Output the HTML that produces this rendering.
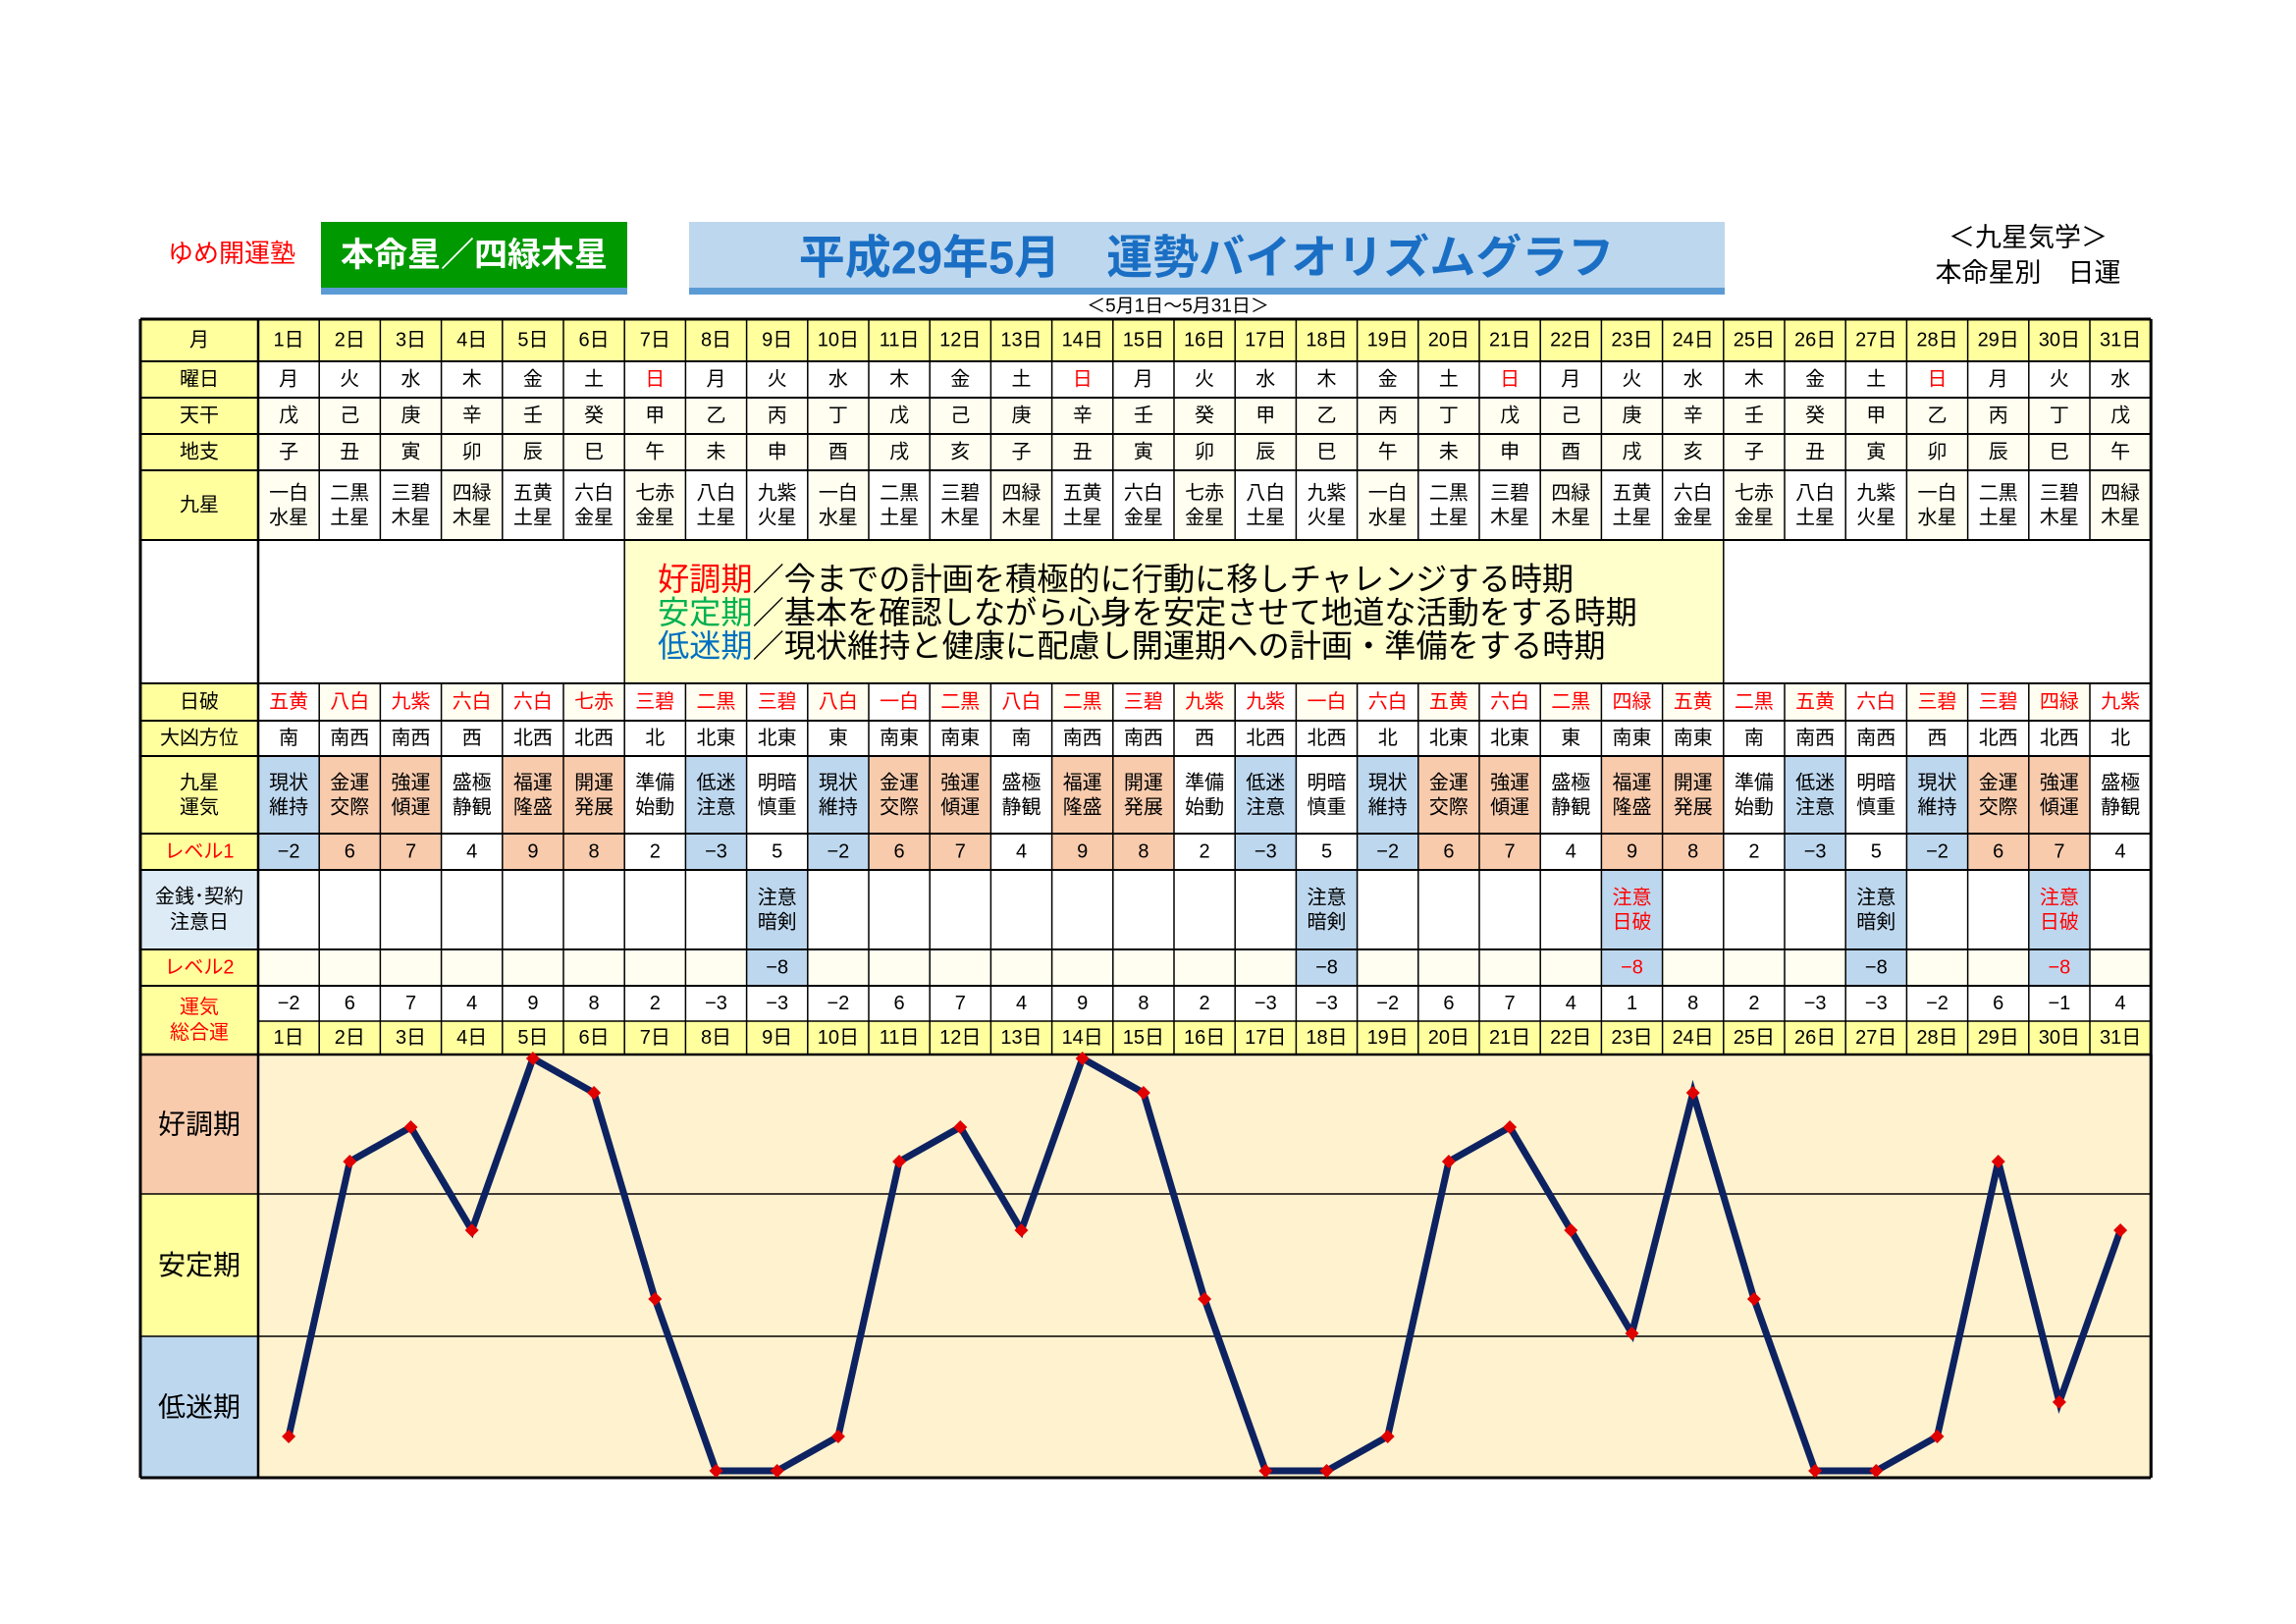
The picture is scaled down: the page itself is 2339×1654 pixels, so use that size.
<!DOCTYPE html>
<html><head><meta charset="utf-8">
<style>
html,body{margin:0;padding:0;background:#fff;}
svg{display:block;}
text{font-family:"Liberation Sans","Noto Sans CJK JP",sans-serif;}
</style></head>
<body>
<div id="w"></div>
<script>
var W=2339,H=1654;
var L=143,C0=263,CW=62.2,R=C0+CW*31;
var ry=[325,368,405,442,479,550,696,734,770,849,886,967,1004,1040,1074];
var CB=1505;
var s='<svg xmlns="http://www.w3.org/2000/svg" width="'+W+'" height="'+H+'" viewBox="0 0 '+W+' '+H+'">';
s+='<rect width="'+W+'" height="'+H+'" fill="#fff"/>';
function rect(x,y,w,h,f){s+='<rect x="'+x+'" y="'+y+'" width="'+w+'" height="'+h+'" fill="'+f+'"/>';}
function txt(x,y,t,sz,c,extra){s+='<text x="'+x+'" y="'+y+'" font-size="'+sz+'" fill="'+(c||'#000')+'" text-anchor="middle" dominant-baseline="central" '+(extra||'')+'>'+t+'</text>';}
function line(x1,y1,x2,y2,w,c){s+='<line x1="'+x1+'" y1="'+y1+'" x2="'+x2+'" y2="'+y2+'" stroke="'+(c||'#000')+'" stroke-width="'+w+'"/>';}
var YEL='#ffff9e',PALE='#fffef0',BLUE='#bdd7ee',ORG='#f8cbad',LBL='#ddebf7';
txt(236,258,'ゆめ開運塾',26,'#ff0000');
rect(327,226,312,68,'#009900');rect(327,293,312,7,'#5b9bd5');
txt(483,260,'本命星／四緑木星',34,'#fff','font-weight="bold"');
rect(702,226,1055,68,'#bdd7ee');rect(702,293,1055,7,'#5b9bd5');
txt(1229,262,'平成29年5月　運勢バイオリズムグラフ',47,'#1a6fc4','font-weight="bold"');
txt(2066,242,'＜九星気学＞',27,'#000');
txt(2066,278,'本命星別　日運',27,'#000');
txt(1200,312,'＜5月1日～5月31日＞',19,'#000');
var dow='月火水木金土日',tg='戊己庚辛壬癸甲乙丙丁',dz='子丑寅卯辰巳午未申酉戌亥';
var ks=['一白','二黒','三碧','四緑','五黄','六白','七赤','八白','九紫'];
var ke=['水星','土星','木星','木星','土星','金星','金星','土星','火星'];
var hp='五黄,八白,九紫,六白,六白,七赤,三碧,二黒,三碧,八白,一白,二黒,八白,二黒,三碧,九紫,九紫,一白,六白,五黄,六白,二黒,四緑,五黄,二黒,五黄,六白,三碧,三碧,四緑,九紫'.split(',');
var dk='南,南西,南西,西,北西,北西,北,北東,北東,東,南東,南東,南,南西,南西,西,北西,北西,北,北東,北東,東,南東,南東,南,南西,南西,西,北西,北西,北'.split(',');
var un1=['現状','金運','強運','盛極','福運','開運','準備','低迷','明暗'];
var un2=['維持','交際','傾運','静観','隆盛','発展','始動','注意','慎重'];
var lv=[-2,6,7,4,9,8,2,-3,5];
var tot=[-2,6,7,4,9,8,2,-3,-3,-2,6,7,4,9,8,2,-3,-3,-2,6,7,4,1,8,2,-3,-3,-2,6,-1,4];
var spec={9:0,18:0,27:0,23:1,30:1};
function fmt(v){return v<0?'−'+(-v):''+v;}
var labs=[['月',YEL],['曜日',YEL],['天干',YEL],['地支',YEL],['九星',YEL],['','#fff'],['日破',YEL],['大凶方位',YEL],['',YEL],['レベル1',YEL],['',LBL],['レベル2',YEL],['',YEL]];
for(var r=0;r<13;r++){var y0=ry[r],y1=(r==12?ry[14]:ry[r+1]);rect(L,y0,C0-L,y1-y0,labs[r][1]);}
var fs=20;
for(var r=0;r<13;r++){var y0=ry[r],y1=(r==12?ry[14]:ry[r+1]);var cy=(y0+y1)/2;var t=labs[r][0];
 if(t)txt((L+C0)/2,cy,t,fs,(r==9||r==11)?'#ff0000':'#000');}
txt((L+C0)/2,(ry[8]+ry[9])/2-12,'九星',fs);txt((L+C0)/2,(ry[8]+ry[9])/2+13,'運気',fs);
txt((L+C0)/2,(ry[10]+ry[11])/2-13,'金銭･契約',fs);txt((L+C0)/2,(ry[10]+ry[11])/2+13,'注意日',fs);
txt((L+C0)/2,(ry[12]+ry[14])/2-13,'運気',fs,'#ff0000');txt((L+C0)/2,(ry[12]+ry[14])/2+13,'総合運',fs,'#ff0000');
rect(C0,ry[5],CW*31,ry[6]-ry[5],'#fff');
rect(C0+CW*6,ry[5],CW*18,ry[6]-ry[5],'#ffffcc');
var dx=670;
var dl=[['好調期','#ff0000','／今までの計画を積極的に行動に移しチャレンジする時期'],['安定期','#00b050','／基本を確認しながら心身を安定させて地道な活動をする時期'],['低迷期','#0070c0','／現状維持と健康に配慮し開運期への計画・準備をする時期']];
for(var i=0;i<3;i++){s+='<text x="'+dx+'" y="'+(590+i*34)+'" font-size="32.2" dominant-baseline="central"><tspan fill="'+dl[i][1]+'">'+dl[i][0]+'</tspan><tspan fill="#000">'+dl[i][2]+'</tspan></text>';}
for(var i=0;i<31;i++){
 var x=C0+CW*i,cx=x+CW/2,d=i+1,k=i%9,l=lv[k];
 var cf=l>=6?ORG:(l<0?BLUE:'#fff');
 var sp=spec.hasOwnProperty(d);
 var fills=[YEL,'#fff',PALE,PALE,(i%3==0?PALE:'#fff'),null,(i%2?PALE:'#fff'),'#fff',cf,cf,sp?BLUE:'#fff',sp?BLUE:PALE,'#fff',YEL];
 for(var r=0;r<14;r++){if(r==5)continue;rect(x,ry[r],CW,ry[r+1]-ry[r],fills[r]);}
 function c(r){return (ry[r]+ry[r+1])/2;}
 txt(cx,c(0),d+'日',fs);
 txt(cx,c(1),dow[i%7],fs,i%7==6?'#ff0000':'#000');
 txt(cx,c(2),tg[i%10],fs);
 txt(cx,c(3),dz[i%12],fs);
 txt(cx,c(4)-12,ks[k],fs);txt(cx,c(4)+13,ke[k],fs);
 txt(cx,c(6),hp[i],fs,'#ff0000');
 txt(cx,c(7),dk[i],fs);
 txt(cx,c(8)-12,un1[k],fs);txt(cx,c(8)+13,un2[k],fs);
 txt(cx,c(9),fmt(l),fs);
 if(sp){var red=spec[d]==1;txt(cx,c(10)-12,'注意',fs,red?'#ff0000':'#000');txt(cx,c(10)+13,red?'日破':'暗剣',fs,red?'#ff0000':'#000');txt(cx,c(11),'−8',fs,red?'#ff0000':'#000');}
 txt(cx,c(12),fmt(tot[i]),fs);
 txt(cx,c(13),d+'日',fs);
}
for(var r=0;r<=14;r++){ if(r==13){line(C0,ry[r],R,ry[r],1.5);continue;} line(L,ry[r],R,ry[r],r==0?3:2);}
line(L,ry[0],L,CB,3);line(R,ry[0],R,CB,3);line(C0,ry[0],C0,CB,2.5);
for(var i=1;i<31;i++){var x=C0+CW*i;line(x,ry[0],x,ry[5],1.5);line(x,ry[6],x,ry[14],1.5);}
line(C0+CW*6,ry[5],C0+CW*6,ry[6],1.5);line(C0+CW*24,ry[5],C0+CW*24,ry[6],1.5);
var b1=1216,b2=1361;
rect(L,ry[14],C0-L,b1-ry[14],ORG);rect(L,b1,C0-L,b2-b1,YEL);rect(L,b2,C0-L,CB-b2,BLUE);
rect(C0,ry[14],R-C0,CB-ry[14],'#fff2cf');
txt((L+C0)/2,(ry[14]+b1)/2,'好調期',28);txt((L+C0)/2,(b1+b2)/2,'安定期',28);txt((L+C0)/2,(b2+CB)/2,'低迷期',28);
line(L,b1,R,b1,1.5);line(L,b2,R,b2,1.5);
line(L,ry[14],R,ry[14],2.5);line(L,CB,R,CB,3);line(L,ry[14],L,CB,3);line(R,ry[14],R,CB,3);line(C0,ry[14],C0,CB,2.5);
function Y(v){return 1078+(9-v)*35;}
var pts=[];for(var i=0;i<31;i++)pts.push((C0+CW*(i+0.5)).toFixed(1)+','+Y(tot[i]).toFixed(1));
s+='<polyline points="'+pts.join(' ')+'" fill="none" stroke="#0d2260" stroke-width="7" stroke-linejoin="miter"/>';
for(var i=0;i<31;i++){var x=C0+CW*(i+0.5),y=Y(tot[i]);s+='<polygon points="'+x+','+(y-7)+' '+(x+7)+','+y+' '+x+','+(y+7)+' '+(x-7)+','+y+'" fill="#e00000"/>';}
s+='</svg>';
document.getElementById('w').innerHTML=s;
</script>
</body></html>
